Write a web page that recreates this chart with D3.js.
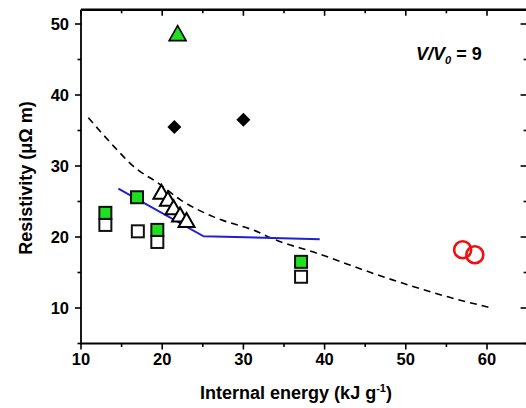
<!DOCTYPE html>
<html><head><meta charset="utf-8">
<script src="https://cdn.jsdelivr.net/npm/d3@7"></script>
<style>
html,body{margin:0;padding:0;background:#fff;}
svg{display:block;font-family:"Liberation Sans",Arial,sans-serif;}
</style></head>
<body>
<svg id="c" width="526" height="408"></svg>
<script>
// ---- data ----
const xTicks = [10, 20, 30, 40, 50, 60];
const yTicks = [10, 20, 30, 40, 50];
const dashedX = [10.9, 14.1, 16.5, 19.5, 22.3, 26.4, 31.8, 33.3, 39.1, 47.2, 55.4, 60.6];
const dashedY = [36.8, 32.7, 29.9, 27.6, 25.2, 22.8, 20.7, 19.9, 17.7, 14.4, 11.5, 10.0];
const blueX = [14.6, 25.1, 39.4];
const blueY = [26.8, 20.1, 19.7];
const greenSqX = [13.0, 16.9, 19.4, 37.1];
const greenSqY = [23.4, 25.6, 21.0, 16.5];
const openSqX = [13.0, 17.0, 19.4, 37.1];
const openSqY = [21.7, 20.8, 19.3, 14.4];
const openTriX = [19.9, 20.7, 21.4, 22.2, 23.0];
const openTriY = [26.1, 25.1, 23.9, 22.9, 22.1];
const greenTriX = [21.9];
const greenTriY = [48.5];
const diamondX = [21.5, 30.0];
const diamondY = [35.5, 36.5];
const circleX = [57.0, 58.5];
const circleY = [18.2, 17.5];

const svg = d3.select("#c");
const x = d3.scaleLinear().domain([10, 65]).range([81, 527.6]);
const y = d3.scaleLinear().domain([5, 52]).range([343.5, 9.8]);

const green = "#1ee01e";

const fmt = d3.format("d");
const minorX = d3.range(10, 66, 5);
const minorY = d3.range(5, 53, 5);

// bottom (outward)
svg.append("g").selectAll("line").data(minorX).join("line")
  .attr("x1", d => x(d)).attr("x2", d => x(d))
  .attr("y1", y(5)).attr("y2", d => y(5) + (d % 10 === 0 ? 6 : 3.5))
  .attr("stroke", "#000").attr("stroke-width", 1.6);
// top (inward)
svg.append("g").selectAll("line").data(minorX).join("line")
  .attr("x1", d => x(d)).attr("x2", d => x(d))
  .attr("y1", y(52)).attr("y2", d => y(52) + (d % 10 === 0 ? 6 : 3.5))
  .attr("stroke", "#000").attr("stroke-width", 1.6);
// left (outward)
svg.append("g").selectAll("line").data(minorY).join("line")
  .attr("y1", d => y(d)).attr("y2", d => y(d))
  .attr("x1", x(10)).attr("x2", d => x(10) - (d % 10 === 0 ? 6 : 3.5))
  .attr("stroke", "#000").attr("stroke-width", 1.6);
// right (inward)
svg.append("g").selectAll("line").data(minorY).join("line")
  .attr("y1", d => y(d)).attr("y2", d => y(d))
  .attr("x1", x(65)).attr("x2", d => x(65) - (d % 10 === 0 ? 7 : 4))
  .attr("stroke", "#000").attr("stroke-width", 1.6);

// frame lines
svg.append("line").attr("x1", x(10)).attr("x2", x(65)).attr("y1", y(5)).attr("y2", y(5))
  .attr("stroke", "#000").attr("stroke-width", 1.8);
svg.append("line").attr("x1", x(10)).attr("x2", x(65)).attr("y1", y(52)).attr("y2", y(52))
  .attr("stroke", "#000").attr("stroke-width", 2.4);
svg.append("line").attr("x1", x(10)).attr("x2", x(10)).attr("y1", y(52)).attr("y2", y(5) + 1)
  .attr("stroke", "#000").attr("stroke-width", 1.8);

// tick labels
svg.append("g").selectAll("text").data(xTicks).join("text")
  .attr("x", d => x(d)).attr("y", 365).attr("text-anchor", "middle")
  .attr("font-size", 16.5).attr("font-weight", "bold").text(fmt);
svg.append("g").selectAll("text").data(yTicks).join("text")
  .attr("x", 69).attr("y", d => y(d) + 5.8).attr("text-anchor", "end")
  .attr("font-size", 16.5).attr("font-weight", "bold").text(fmt);

// axis titles
const xt = svg.append("text").attr("x", 296).attr("y", 399).attr("text-anchor", "middle")
  .attr("font-size", 18).attr("font-weight", "bold");
xt.append("tspan").text("Internal energy (kJ g");
xt.append("tspan").attr("font-size", 11).attr("dy", -7).text("-1");
xt.append("tspan").attr("dy", 7).text(")");

svg.append("text").attr("transform", "translate(32,178) rotate(-90)")
  .attr("text-anchor", "middle").attr("font-size", 18).attr("font-weight", "bold")
  .text("Resistivity (μΩ m)");

// annotation
const an = svg.append("text").attr("x", 416).attr("y", 60)
  .attr("font-size", 18).attr("font-weight", "bold");
an.append("tspan").attr("font-style", "italic").text("V/V");
an.append("tspan").attr("font-style", "italic").attr("font-size", 11).attr("dy", 4).text("0");
an.append("tspan").attr("dy", -4).text(" = 9");

// dashed curve
const line = d3.line().x(d => x(d[0])).y(d => y(d[1])).curve(d3.curveMonotoneX);
svg.append("path").datum(d3.zip(dashedX, dashedY)).attr("d", line)
  .attr("fill", "none").attr("stroke", "#000").attr("stroke-width", 1.6)
  .attr("stroke-dasharray", "7,5");

// blue line
svg.append("path").datum(d3.zip(blueX, blueY))
  .attr("d", d3.line().x(d => x(d[0])).y(d => y(d[1])))
  .attr("fill", "none").attr("stroke", "#1f1fd8").attr("stroke-width", 2);

// open squares
const s = 12;
svg.append("g").selectAll("rect").data(d3.zip(openSqX, openSqY)).join("rect")
  .attr("x", d => x(d[0]) - s / 2).attr("y", d => y(d[1]) - s / 2)
  .attr("width", s).attr("height", s)
  .attr("fill", "#fff").attr("stroke", "#111").attr("stroke-width", 2);
// green squares
svg.append("g").selectAll("rect").data(d3.zip(greenSqX, greenSqY)).join("rect")
  .attr("x", d => x(d[0]) - s / 2).attr("y", d => y(d[1]) - s / 2)
  .attr("width", s).attr("height", s)
  .attr("fill", green).attr("stroke", "#111").attr("stroke-width", 2);

// open triangles
const tri = "M0,-9 L8,5 L-8,5 Z";
svg.append("g").selectAll("path").data(d3.zip(openTriX, openTriY)).join("path")
  .attr("transform", d => `translate(${x(d[0])},${y(d[1])})`)
  .attr("d", tri).attr("fill", "#fff").attr("stroke", "#000").attr("stroke-width", 2)
  .attr("stroke-linejoin", "miter");

// green triangle
svg.append("g").selectAll("path").data(d3.zip(greenTriX, greenTriY)).join("path")
  .attr("transform", d => `translate(${x(d[0])},${y(d[1])})`)
  .attr("d", "M0,-9 L8.5,6 L-8.5,6 Z").attr("fill", green).attr("stroke", "#000").attr("stroke-width", 1.6);

// diamonds
svg.append("g").selectAll("path").data(d3.zip(diamondX, diamondY)).join("path")
  .attr("transform", d => `translate(${x(d[0])},${y(d[1])})`)
  .attr("d", "M0,-7 L7,0 L0,7 L-7,0 Z").attr("fill", "#000");

// red circles
svg.append("g").selectAll("circle").data(d3.zip(circleX, circleY)).join("circle")
  .attr("cx", d => x(d[0])).attr("cy", d => y(d[1])).attr("r", 8.5)
  .attr("fill", "none").attr("stroke", "#ee1111").attr("stroke-width", 2.6);
</script>
</body></html>
